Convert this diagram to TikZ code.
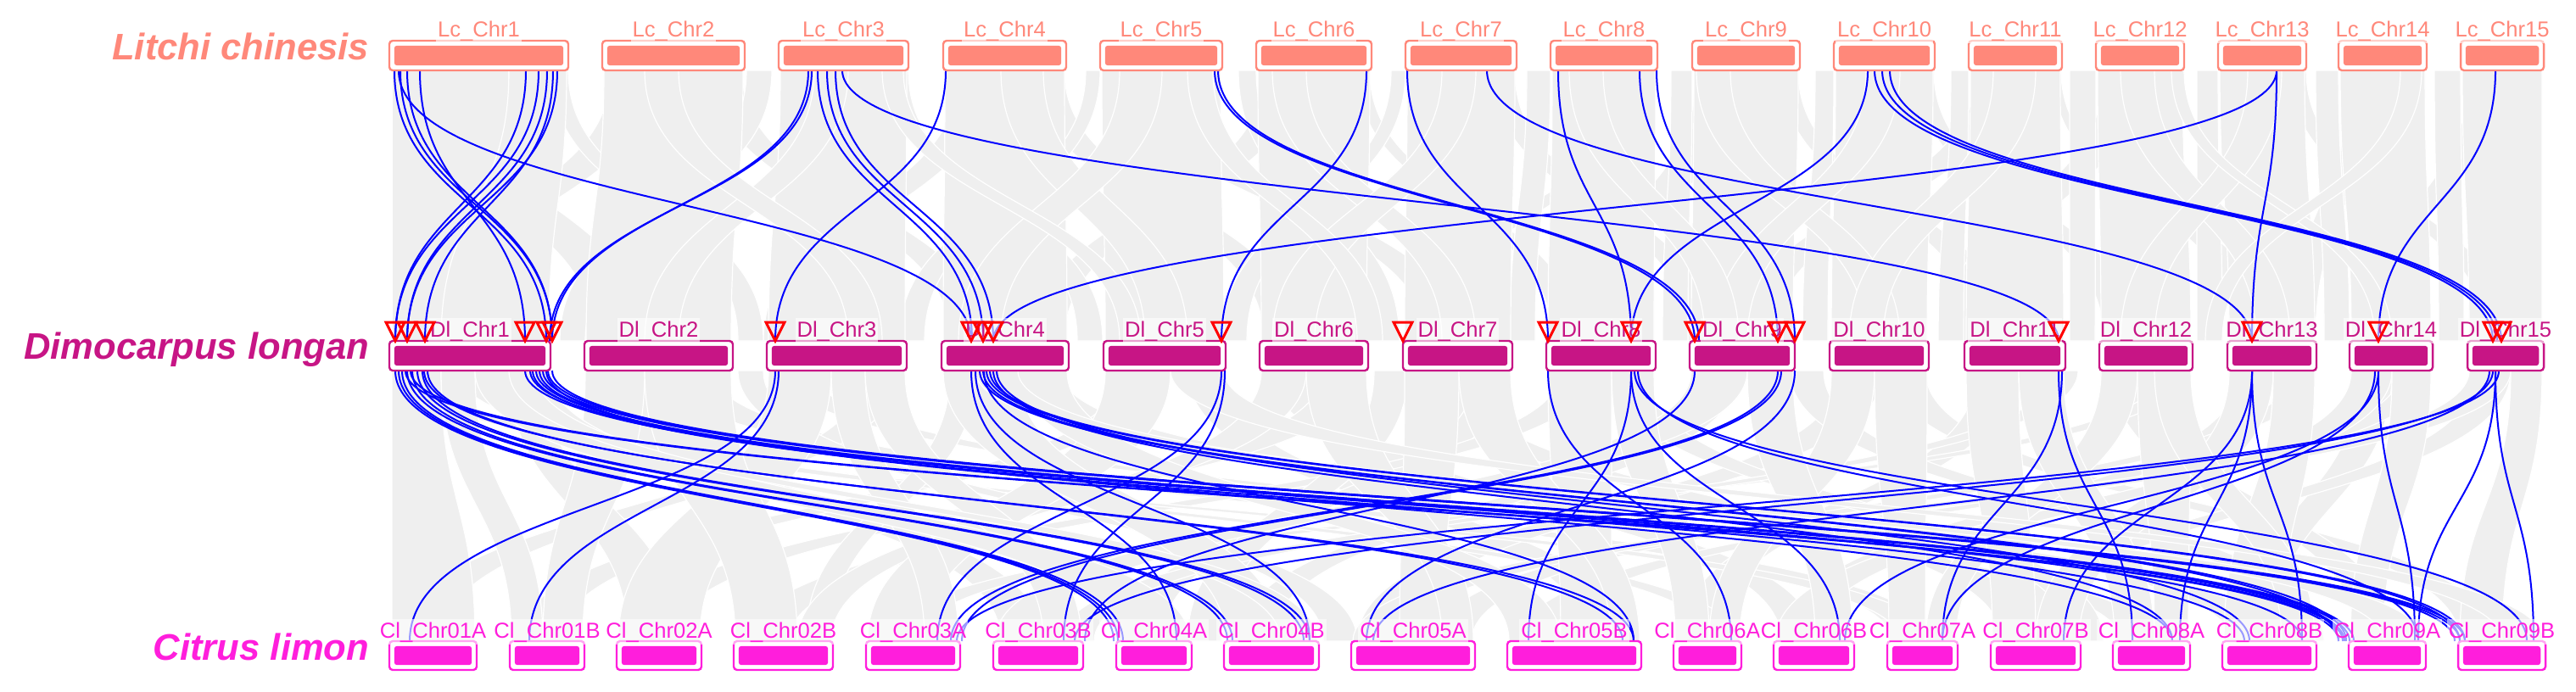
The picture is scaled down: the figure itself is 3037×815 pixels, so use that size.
\documentclass[tikz,border=0pt]{standalone}
\usepackage{fontspec}
\setmainfont{Liberation Sans}
\usetikzlibrary{fit,calc}
\definecolor{lcc}{RGB}{255,136,122}
\definecolor{dlc}{RGB}{199,21,133}
\definecolor{clc}{RGB}{255,30,220}
\definecolor{synt}{RGB}{239,239,239}
\definecolor{linkblue}{RGB}{0,0,255}
\tikzset{
  rib/.style={fill=synt, draw=white, line width=0.3pt},
  blink/.style={draw=linkblue, line width=0.5pt},
  chrlab/.style={font=\fontsize{6.4}{7}\selectfont, fill=white, fill opacity=0.6, text opacity=1, inner xsep=0.5pt, inner ysep=0.8pt, anchor=base},
  species/.style={font=\fontsize{10.9}{12}\selectfont\bfseries\itshape, anchor=base east, inner sep=0pt},
  tri/.style={draw=red, line width=0.75pt, line join=miter}
}
\newcommand\rbT[4]{\path[rib] (#1,83) .. controls (#1,242) and (#3,242) .. (#3,402) -- (#4,402) .. controls (#4,242) and (#2,242) .. (#2,83) -- cycle;}
\newcommand\rbB[4]{\path[rib] (#1,437) .. controls (#1,596) and (#3,596) .. (#3,756) -- (#4,756) .. controls (#4,596) and (#2,596) .. (#2,437) -- cycle;}
\newcommand\lkT[2]{\draw[blink] (#1,83) .. controls (#1,242) and (#2,242) .. (#2,402);}
\newcommand\lkB[2]{\draw[blink] (#1,437) .. controls (#1,596) and (#2,596) .. (#2,756);}
\newcommand\chrom[6]{%
  \path (#2,#4) coordinate (#1-nw) (#3,#5) coordinate (#1-se);
  \node[fit=(#1-nw)(#1-se), inner sep=0pt, draw=#6, fill=white, line width=0.6pt, rounded corners=1pt] (#1) {};
  \fill[#6, rounded corners=0.8pt] ($(#1.north west)+(7,7)$) rectangle ($(#1.south east)+(-7,-7)$);
}
\begin{document}
\begin{tikzpicture}[x=0.25pt, y=-0.25pt]
\useasboundingbox (0,0) rectangle (3037,815);
% ---------- grey synteny ribbons, Litchi -> Longan
\foreach \a/\b/\c/\d in {480/540/700/760, 720/770/470/520, 840/875/1120/1160, 1130/1170/900/940, 1220/1255/1490/1530, 1490/1530/1220/1255, 1330/1370/1680/1720, 1600/1615/1830/1860, 1760/1786/1990/2020, 1940/1954/1660/1700, 2000/2050/1850/1890, 2100/2120/2330/2370, 2260/2280/2480/2520, 2330/2370/2050/2090, 2420/2430/2640/2680, 2480/2520/2290/2330, 2700/2719/2930/2960, 2770/2800/2700/2730, 2910/2940/2780/2810, 650/670/870/900, 880/910/660/690, 1060/1071/1270/1300, 1280/1297/1060/1090, 1460/1481/1620/1650, 1640/1657/1440/1470, 1800/1828/1780/1810, 1970/1995/1960/1990, 2140/2162/2125/2155, 2300/2321/2285/2315, 2440/2471/2440/2470, 2590/2615/2590/2620, 2730/2757/2740/2770, 2870/2901/2875/2905}
  {\rbT{\a}{\b}{\c}{\d}}
\foreach \a/\b/\c/\d in {462/600/462/600, 600/668/520/647, 712/876/691/862, 920/1069/906/1067, 1114/1255/1112/1258, 1299/1439/1303/1443, 1483/1615/1487/1611, 1659/1786/1656/1781, 1830/1952/1825/1950, 1997/2120/1994/2114, 2164/2279/2159/2272, 2323/2429/2318/2433, 2473/2573/2477/2583, 2617/2717/2628/2729, 2759/2859/2772/2866, 2903/2997/2911/2997}
  {\rbT{\a}{\b}{\c}{\d}}
\foreach \a/\b/\c/\d in {1180/1230/1350/1400, 1320/1370/1130/1180, 1500/1540/1700/1740, 1700/1740/1500/1550, 960/1000/760/800, 760/800/1000/1040, 2000/2040/2200/2240, 2200/2240/2020/2060, 2500/2540/2660/2700, 2650/2690/2500/2540, 1850/1890/2010/2050, 2350/2400/2180/2220, 1400/1430/1600/1630, 1040/1065/1320/1345, 2560/2575/2800/2820, 2830/2855/2600/2620}
  {\rbT{\a}{\b}{\c}{\d}}
% ---------- grey synteny ribbons, Longan -> Citrus
\foreach \a/\b/\c/\d in {700/760/1180/1230, 780/840/2230/2280, 920/960/2500/2540, 1020/1060/470/520, 1210/1250/2630/2680, 1320/1360/610/660, 1400/1440/1870/1920, 1500/1550/2100/2140, 1560/1610/740/790, 1670/1720/2360/2410, 1740/1780/1330/1370, 1840/1880/880/930, 2010/2050/1460/1500, 2170/2220/1600/1650, 2230/2270/2900/2940, 2330/2370/1980/2020, 2490/2530/2780/2820, 2550/2580/1040/1080, 2640/2680/2100/2140, 2700/2730/1690/1735, 2780/2820/2640/2680, 2830/2866/1790/1830, 2920/2960/2360/2400, 470/510/2240/2280, 540/590/2020/2050, 600/640/740/800, 870/900/1560/1600, 1120/1150/950/980, 1620/1660/1400/1440, 1900/1940/2440/2480, 2110/2150/2700/2740, 2420/2450/1250/1290}
  {\rbB{\a}{\b}{\c}{\d}}
\foreach \a/\b/\c/\d in {462/520/462/560, 520/560/603/640, 690/760/640/687, 906/980/729/825, 760/862/867/940, 1487/1540/940/980, 1303/1380/1023/1090, 980/1020/1090/1130, 1994/2060/1173/1230, 1020/1067/1230/1275, 560/647/1318/1403, 1112/1200/1445/1510, 600/630/1510/1553, 2911/2960/1595/1650, 1656/1720/1650/1700, 1540/1611/1700/1737, 1200/1258/1779/1840, 1825/1900/1840/1900, 1720/1781/1900/1933, 1900/1950/1975/2015, 2159/2210/2015/2051, 2772/2820/2093/2140, 2060/2114/2140/2184, 2210/2272/2227/2270, 2477/2520/2270/2306, 2318/2380/2349/2400, 2628/2680/2400/2451, 2380/2433/2493/2540, 2520/2583/2540/2580, 2680/2729/2622/2690, 2540/2583/2690/2729, 2820/2866/2771/2810, 1150/1200/2810/2858, 2960/2997/2900/2950, 1380/1443/2950/2999}
  {\rbB{\a}{\b}{\c}{\d}}
% ---------- blue links, Litchi -> Longan
\foreach \a/\b in {465/644, 472/651, 480/651, 495/619, 620/466, 635/466, 645/480, 652/501, 657/480, 470/1145, 953/651, 957/648, 964/1146, 975/1159, 985/1171, 993/2427, 1115/914, 1432/1998, 1436/2003, 1611/1440, 1659/1825, 1753/2655, 1837/1923, 1933/2096, 1953/2116, 2202/1923, 2210/2939, 2219/2944, 2228/2949, 2684/2655, 2684/1171, 2942/2804}
  {\lkT{\a}{\b}}
% ---------- blue links, Longan -> Citrus
\foreach \a/\b in {466/1313, 470/1318, 474/1324, 480/1447, 486/1453, 492/1537, 498/1544, 504/1913, 500/1926, 478/2757, 484/2762, 619/2764, 625/2770, 632/2775, 640/2894, 646/2900, 651/2906, 636/2714, 644/2561, 628/2646, 914/483, 918/624, 1145/1387, 1150/1544, 1155/2757, 1159/2766, 1163/2900, 1167/2906, 1171/2561, 1175/2652, 1160/1926, 1440/1105, 1444/1254, 1825/2041, 1923/1802, 1923/2169, 1927/2979, 1931/2851, 1998/1279, 2096/1121, 2100/1134, 2116/1611, 2427/2514, 2431/2290, 2655/2714, 2655/2570, 2655/2433, 2804/2847, 2804/2175, 2800/2290, 2942/2987, 2942/2851, 2935/1619, 2939/1267, 2946/1128}
  {\lkB{\a}{\b}}
% ---------- chromosomes: Litchi chinesis
\foreach \n/\a/\b in {1/459/670, 2/710/878, 3/918/1071, 4/1112/1257, 5/1297/1441, 6/1481/1617, 7/1657/1788, 8/1828/1954, 9/1995/2122, 10/2162/2281, 11/2321/2431, 12/2471/2575, 13/2615/2719, 14/2757/2861, 15/2901/2999}
{
  \chrom{lc\n}{\a}{\b}{48}{83}{lcc}
  \node[chrlab, text=lcc] (lclab\n) at ({(\a+\b)/2},43) {Lc\_Chr\n};
}
% ---------- chromosomes: Dimocarpus longan
\foreach \n/\a/\b in {1/459/649, 2/689/864, 3/904/1069, 4/1110/1260, 5/1301/1445, 6/1485/1613, 7/1654/1783, 8/1823/1952, 9/1992/2116, 10/2157/2274, 11/2316/2435, 12/2475/2585, 13/2626/2731, 14/2770/2868, 15/2909/2999}
{
  \chrom{dl\n}{\a}{\b}{402}{437}{dlc}
  \node[chrlab, text=dlc] (dllab\n) at ({(\a+\b)/2},397) {Dl\_Chr\n};
}
% ---------- chromosomes: Citrus limon
\foreach \n/\a/\b in {01A/459/562, 01B/601/689, 02A/727/827, 02B/865/982, 03A/1021/1132, 03B/1171/1277, 04A/1316/1405, 04B/1443/1555, 05A/1593/1739, 05B/1777/1935, 06A/1973/2053, 06B/2091/2186, 07A/2225/2308, 07B/2347/2453, 08A/2491/2582, 08B/2620/2731, 09A/2769/2860, 09B/2898/3001}
{
  \chrom{cl\n}{\a}{\b}{756}{790}{clc}
  \node[chrlab, text=clc] (cllab\n) at ({(\a+\b)/2},752) {Cl\_Chr\n};
}
% ---------- red markers
\foreach \x in {466, 480, 501, 619, 644, 651, 914, 1145, 1159, 1171, 1440, 1654, 1825, 1923, 1998, 2096, 2116, 2427, 2655, 2804, 2939, 2949}
  {\draw[tri] ({\x-11},380) -- ({\x+11},380) -- (\x,402) -- cycle;}
% ---------- species names
\node[species, text=lcc] (splc) at (436,70) {Litchi chinesis};
\node[species, text=dlc] (spdl) at (436,423) {Dimocarpus longan};
\node[species, text=clc] (spcl) at (436,778) {Citrus limon};
\end{tikzpicture}
\end{document}
